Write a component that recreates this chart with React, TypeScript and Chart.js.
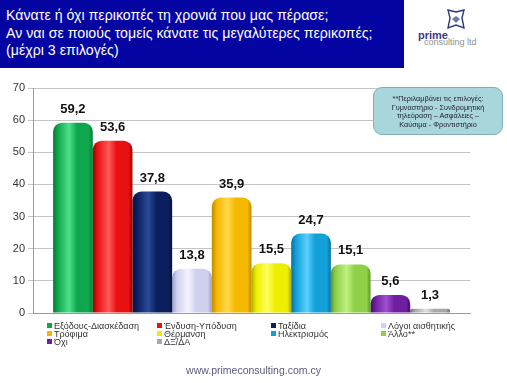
import React, { useEffect, useRef } from "react";
import { Chart, registerables } from "chart.js";

Chart.register(...registerables);

const titleLines = [
  "Κάνατε ή όχι περικοπές τη χρονιά που μας πέρασε;",
  "Αν ναι σε ποιούς τομείς κάνατε τις μεγαλύτερες περικοπές;",
  "(μέχρι 3 επιλογές)",
];
const categories = [
  "Εξόδους-Διασκέδαση",
  "Ένδυση-Υπόδυση",
  "Ταξίδια",
  "Λόγοι αισθητικής",
  "Τρόφιμα",
  "Θέρμανση",
  "Ηλεκτρισμός",
  "Άλλο**",
  "Όχι",
  "ΔΞ/ΔΑ",
];
const values = [59.2, 53.6, 37.8, 13.8, 35.9, 15.5, 24.7, 15.1, 5.6, 1.3];
const baseColors = ["#0fa64e", "#e81010", "#0b1f5e", "#cfd0ee", "#f5b800", "#eeee00", "#12a0d8", "#8fd048", "#6e1fa0", "#a8a8a8"];
const lightColors = ["#4fe08a", "#ff5a5a", "#2a4a9a", "#f4f4ff", "#ffd84a", "#ffff60", "#5ad0ff", "#c0f080", "#a050d0", "#e0e0e0"];
const darkColors = ["#067a34", "#a00000", "#06123a", "#9a9cc8", "#c08800", "#b0b000", "#0870a0", "#5a9a20", "#40106a", "#707070"];
const noteLines = [
  "**Περιλαμβάνει τις επιλογές:",
  "Γυμναστήριο - Συνδρομητική",
  "τηλεόραση  – Ασφάλειες –",
  "Καύσιμα - Φροντιστήριο",
];
const yTicks = [0, 10, 20, 30, 40, 50, 60, 70];
const footer = "www.primeconsulting.com.cy";

const CAT_PCT = 0.908;

export default function App() {
  const ref = useRef<HTMLCanvasElement>(null);
  useEffect(() => {
    const canvas = ref.current!;
    const n = values.length;
    const labelPlugin = {
      id: "vals",
      afterDatasetsDraw(chart: any) {
        const ctx = chart.ctx;
        ctx.save();
        ctx.font = "bold 13px Arial, 'Liberation Sans', sans-serif";
        ctx.fillStyle = "#111";
        ctx.textAlign = "center";
        ctx.textBaseline = "alphabetic";
        chart.data.datasets.forEach((ds: any, i: number) => {
          const meta = chart.getDatasetMeta(i);
          const el = meta.data[0];
          if (!el) return;
          ctx.fillText(String(ds.data[0]).replace(".", ","), el.x, el.y - 10);
        });
        ctx.restore();
      },
    };
    const chart = new Chart(canvas, {
      type: "bar",
      data: {
        labels: [""],
        datasets: values.map((v, i) => ({
          label: categories[i],
          data: [v],
          borderRadius: { topLeft: 9, topRight: 9, bottomLeft: 0, bottomRight: 0 },
          borderSkipped: "bottom",
          backgroundColor: (c: any) => {
            const ca = c.chart.chartArea;
            if (!ca) return baseColors[i];
            const w = ca.right - ca.left;
            const bw = (w * CAT_PCT) / n;
            const x0 = ca.left + (w * (1 - CAT_PCT)) / 2 + i * bw;
            const g = c.chart.ctx.createLinearGradient(x0, 0, x0 + bw, 0);
            g.addColorStop(0, darkColors[i]);
            g.addColorStop(0.12, baseColors[i]);
            g.addColorStop(0.4, lightColors[i]);
            g.addColorStop(0.6, baseColors[i]);
            g.addColorStop(0.9, baseColors[i]);
            g.addColorStop(1, darkColors[i]);
            return g;
          },
        })),
      },
      options: {
        animation: false,
        responsive: false,
        maintainAspectRatio: false,
        datasets: { bar: { categoryPercentage: CAT_PCT, barPercentage: 1 } },
        layout: { padding: { left: 0, right: 37, top: 88, bottom: 70 } },
        plugins: { legend: { display: false }, tooltip: { enabled: false } },
        scales: {
          x: {
            ticks: { display: false },
            grid: { display: false, drawTicks: false },
            border: { color: "#9a9a9a" },
            afterFit: (s: any) => { s.height = 0; },
          },
          y: {
            min: 0,
            max: 70,
            afterBuildTicks: (s: any) => { s.ticks = yTicks.map((v) => ({ value: v })); },
            afterFit: (s: any) => { s.width = 33; },
            ticks: { color: "#333", font: { family: "Arial, 'Liberation Sans', sans-serif", size: 11 }, padding: 3 },
            grid: { color: "#c4c4c4", tickLength: 5 },
            border: { color: "#9a9a9a" },
          },
        },
      },
      plugins: [labelPlugin],
    });
    return () => chart.destroy();
  }, []);

  const font = "Arial, 'Liberation Sans', sans-serif";
  const legendCols = [47, 157, 271, 381];
  const legendRows = [326, 334, 342];

  return (
    <div style={{ position: "absolute", left: 0, top: 0, width: 507, height: 383, background: "#fff", overflow: "hidden", fontFamily: font }}>
      <div style={{ position: "absolute", left: 0, top: 0, width: 404, height: 68, background: "#0404a2" }}>
        {titleLines.map((t, i) => (
          <div key={i} style={{ position: "absolute", left: 6, top: 7 + i * 17.5, color: "#fff", fontSize: 14.2, lineHeight: "17px", whiteSpace: "nowrap" }}>{t}</div>
        ))}
      </div>
      <div style={{ position: "absolute", left: 418, top: 6, width: 80, height: 50 }}>
        <svg width="80" height="50" style={{ position: "absolute", left: 0, top: 0 }}>
          <polygon points="38,6 46,4 44,12 46,22 38,19 30,22 32,12 30,4" fill="none" stroke="#2a3a7a" strokeWidth="1.4" />
          <polygon points="38,10 42,13 38,17 34,13" fill="#6a7ab0" />
        </svg>
        <div style={{ position: "absolute", left: 0, top: 24, fontSize: 11, fontWeight: "bold", color: "#3a3a8a", lineHeight: "11px" }}>prime</div>
        <div style={{ position: "absolute", left: 6, top: 31, fontSize: 9, color: "#909090", lineHeight: "10px", whiteSpace: "nowrap" }}>consulting ltd</div>
      </div>
      <canvas ref={ref} width={507} height={383} style={{ position: "absolute", left: 0, top: 0 }} />
      <div style={{ position: "absolute", left: 373, top: 87, width: 130, height: 48, background: "#a9d6da", border: "1px solid #7fb0b6", borderRadius: 9, boxSizing: "border-box" }}>
        {noteLines.map((t, i) => (
          <div key={i} style={{ position: "absolute", left: 0, width: 128, top: 7 + i * 8.5, textAlign: "center", fontSize: 7.3, lineHeight: "8px", color: "#223", whiteSpace: "nowrap" }}>{t}</div>
        ))}
      </div>
      {categories.map((c, i) => {
        const col = i % 4;
        const row = Math.floor(i / 4);
        return (
          <div key={i} style={{ position: "absolute", left: legendCols[col], top: legendRows[row] - 5, fontSize: 9, lineHeight: "10px", color: "#333", whiteSpace: "nowrap" }}>
            <span style={{ display: "inline-block", width: 5, height: 5, background: baseColors[i], marginRight: 2, verticalAlign: "1px" }} />
            {c}
          </div>
        );
      })}
      <div style={{ position: "absolute", left: 0, width: 507, top: 364, textAlign: "center", fontSize: 10.5, color: "#5a5a80" }}>{footer}</div>
    </div>
  );
}
